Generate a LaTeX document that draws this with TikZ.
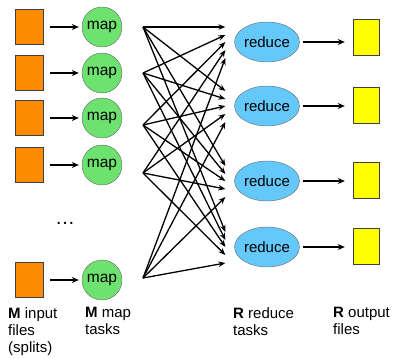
\documentclass[tikz,border=0pt]{standalone}
\usepackage{fontspec}
\setmainfont{Liberation Sans}
\usetikzlibrary{arrows.meta, shapes.geometric}

\definecolor{splitorange}{RGB}{255,140,0}
\definecolor{mapgreen}{RGB}{110,226,110}
\definecolor{reduceblue}{RGB}{100,200,250}
\definecolor{outyellow}{RGB}{255,255,0}

\tikzset{
  inputfile/.style={draw=black!75, fill=splitorange, minimum width=28pt, minimum height=35pt, inner sep=0pt},
  outputfile/.style={draw=black!75, fill=outyellow, minimum width=26pt, minimum height=36pt, inner sep=0pt},
  maptask/.style={circle, draw=black!60, fill=mapgreen, minimum size=40pt, inner sep=0pt, font=\fontsize{15.5}{15.5}\selectfont},
  reducetask/.style={ellipse, draw=black!60, fill=reduceblue, minimum width=63pt, minimum height=40pt, inner sep=0pt, font=\fontsize{15}{15}\selectfont},
  shortarrow/.style={-{Stealth[length=7pt,width=6pt]}, line width=1.5pt},
  shufflearrow/.style={-{Stealth[length=7pt,width=5.5pt]}, line width=1.3pt},
  caption/.style={anchor=north west, align=left, inner sep=0pt, font=\fontsize{15}{17.3}\selectfont}
}

\begin{document}
\begin{tikzpicture}[x=1pt,y=-1pt]
\useasboundingbox (0,0) rectangle (395,358);

% map side
\foreach \i/\y/\fy in {1/27/27, 2/73/73, 3/118/125, 4/165/173, 5/280/278} {
  \node[inputfile] (in\i) at (29,\y) {};
  \node[maptask] (m\i) at (102,\y) {map};
  \draw[shortarrow] ([xshift=7pt]in\i.east) -- ([xshift=-3pt]m\i.west);
  \coordinate (f\i) at (143,\fy);
}
\node (dots) at (65,223) {\fontsize{20}{20}\selectfont\dots};

% reduce side
\foreach \j/\y/\oy in {1/42/37, 2/106/105, 3/181/180, 4/247/246} {
  \node[reducetask] (r\j) at (267,\y) {reduce};
  \node[outputfile] (o\j) at (366,\oy) {};
  \draw[shortarrow] ([xshift=3pt]r\j.east) -- ([xshift=-8pt]o\j.west |- r\j.east);
}

% shuffle
\foreach \i/\dy in {1/15, 2/7, 3/0, 4/-8, 5/-16}
  \foreach \j in {1,...,4}
    \draw[shufflearrow] (f\i) -- ([xshift=-9pt,yshift=\dy pt]r\j.west);

% captions
\node[caption] (c1) at (8,307) {\textbf{M} input\\files\\(splits)};
\node[caption] (c2) at (85,307) {\textbf{M} map\\tasks};
\node[caption] (c3) at (233,307) {\textbf{R} reduce\\tasks};
\node[caption] (c4) at (333,307) {\textbf{R} output\\files};
\end{tikzpicture}
\end{document}
